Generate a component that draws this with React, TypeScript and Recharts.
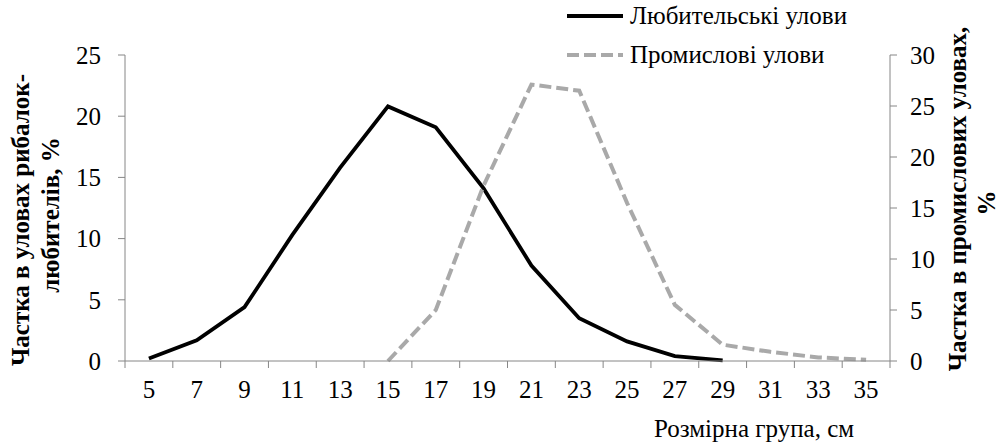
import { LineChart, Line, XAxis, YAxis, Legend } from 'recharts'

const sizes = [5, 7, 9, 11, 13, 15, 17, 19, 21, 23, 25, 27, 29, 31, 33, 35]
const amateur = [0.2, 1.7, 4.4, 10.3, 15.8, 20.8, 19.1, 14.1, 7.8, 3.5, 1.6, 0.4, 0.05, null, null, null]
const commercial = [null, null, null, null, null, 0, 5.0, 17.2, 27.1, 26.5, 15.5, 5.5, 1.6, 0.9, 0.35, 0.12]
const xTicks = [4, 5, 6, 7, 8, 9, 10, 11, 12, 13, 14, 15, 16, 17, 18, 19, 20, 21, 22, 23, 24, 25, 26, 27, 28, 29, 30, 31, 32, 33, 34, 35, 36]
const leftTicks = [0, 5, 10, 15, 20, 25]
const rightTicks = [0, 5, 10, 15, 20, 25, 30]

const data = sizes.map((s, i) => ({ size: s, amateur: amateur[i], commercial: commercial[i] }))

const FONT = '"Liberation Serif", "Times New Roman", serif'
const FS = 25
const AXIS = '#868686'
const GREY = '#a9a9a9'

// even values -> tick mark between groups, odd values -> label (Excel style)
const XTick = ({ x, y, payload }: any) => {
  const v = payload.value
  if (v % 2 === 0) return <line x1={x} x2={x} y1={y} y2={y + 7} stroke={AXIS} strokeWidth={1} />
  return (
    <text x={x} y={y + 37} textAnchor="middle" fill="#000" fontSize={FS} fontFamily={FONT}>{v}</text>
  )
}

const LegendBox = () => (
  <div style={{ fontFamily: FONT, fontSize: FS, color: '#000', lineHeight: '39px' }}>
    <div style={{ display: 'flex', alignItems: 'center', height: 39 }}>
      <svg width={58} height={8}><line x1={0} x2={56} y1={4} y2={4} stroke="#000" strokeWidth={4} /></svg>
      <span style={{ marginLeft: 5 }}>Любительські улови</span>
    </div>
    <div style={{ display: 'flex', alignItems: 'center', height: 39 }}>
      <svg width={58} height={8}><line x1={0} x2={56} y1={4} y2={4} stroke={GREY} strokeWidth={4} strokeDasharray="12 5" /></svg>
      <span style={{ marginLeft: 5 }}>Промислові улови</span>
    </div>
  </div>
)

export default function App() {
  return (
    <div style={{ position: 'absolute', left: 0, top: 0, background: '#fff' }}>
      <LineChart width={1002} height={447} data={data} margin={{ top: 55, right: 0, bottom: 0, left: 0 }}>
        <XAxis
          dataKey="size"
          type="number"
          domain={[4, 36]}
          ticks={xTicks}
          interval={0}
          tick={<XTick />}
          tickLine={false}
          tickSize={0}
          tickMargin={0}
          axisLine={{ stroke: AXIS }}
          height={86}
          label={{
            content: () => (
              <text x={754} y={437} textAnchor="middle" fill="#000" fontSize={FS} fontFamily={FONT}>Розмірна група, см</text>
            ),
          }}
        />
        <YAxis
          yAxisId="left"
          domain={[0, 25]}
          ticks={leftTicks}
          interval={0}
          width={125}
          tickSize={7}
          tickMargin={17}
          axisLine={{ stroke: AXIS }}
          tickLine={{ stroke: AXIS }}
          tick={{ fill: '#000', fontSize: FS, fontFamily: FONT }}
          label={{
            content: () => (
              <g fontFamily={FONT} fontSize={FS} fontWeight="bold" fill="#000">
                <text transform="translate(29,220) rotate(-90)" textAnchor="middle">Частка в уловах рибалок-</text>
                <text transform="translate(58.5,215) rotate(-90)" textAnchor="middle">любителів, %</text>
              </g>
            ),
          }}
        />
        <YAxis
          yAxisId="right"
          orientation="right"
          domain={[0, 30]}
          ticks={rightTicks}
          interval={0}
          width={112}
          tickSize={7}
          tickMargin={13}
          axisLine={{ stroke: AXIS }}
          tickLine={{ stroke: AXIS }}
          tick={{ fill: '#000', fontSize: FS, fontFamily: FONT }}
          label={{
            content: () => (
              <g fontFamily={FONT} fontSize={FS} fontWeight="bold" fill="#000">
                <text transform="translate(966,199) rotate(-90)" textAnchor="middle">Частка в промислових уловах,</text>
                <text transform="translate(995,203) rotate(-90)" textAnchor="middle">%</text>
              </g>
            ),
          }}
        />
        <Legend
          layout="vertical"
          verticalAlign="middle"
          align="center"
          content={<LegendBox />}
          wrapperStyle={{ position: 'absolute', top: -4, left: 567, width: 330 }}
        />
        <Line
          yAxisId="left"
          dataKey="amateur"
          stroke="#000"
          strokeWidth={3.8}
          dot={false}
          activeDot={false}
          connectNulls={false}
          isAnimationActive={false}
        />
        <Line
          yAxisId="right"
          dataKey="commercial"
          stroke={GREY}
          strokeWidth={4}
          strokeDasharray="12 5"
          dot={false}
          activeDot={false}
          connectNulls={false}
          isAnimationActive={false}
        />
      </LineChart>
    </div>
  )
}
